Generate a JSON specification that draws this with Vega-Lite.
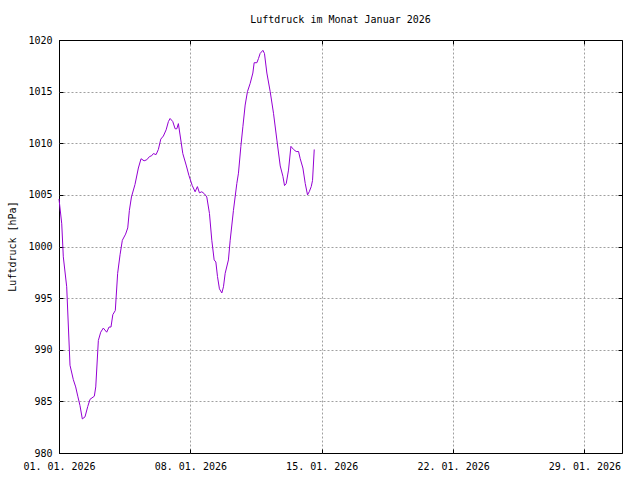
{
  "$schema": "https://vega.github.io/schema/vega-lite/v6.json",
  "width": 563,
  "height": 413,
  "autosize": {"type": "none"},
  "padding": {"left": 59, "top": 40, "right": 18, "bottom": 27},
  "background": "white",
  "title": {
    "text": "Luftdruck im Monat Januar 2026",
    "font": "DejaVu Sans Mono",
    "fontSize": 10,
    "fontWeight": "normal",
    "color": "black",
    "anchor": "middle",
    "offset": 10
  },
  "config": {
    "view": {"stroke": "black", "strokeWidth": 1},
    "axis": {
      "labelFont": "DejaVu Sans Mono",
      "labelFontSize": 10,
      "labelColor": "black",
      "titleFont": "DejaVu Sans Mono",
      "titleFontSize": 10,
      "titleFontWeight": "normal",
      "titleColor": "black",
      "domain": false,
      "gridDash": [2, 2],
      "gridWidth": 1,
      "gridOpacity": 1,
      "ticks": true,
      "tickColor": "black",
      "tickSize": -4,
      "labelOverlap": false,
      "labelFlush": false
    }
  },
  "datasets": {
    "druck": [
      {"t": "2026-01-01T00:00:00Z", "p": 1004.6},
      {"t": "2026-01-01T03:30:00Z", "p": 1002.2},
      {"t": "2026-01-01T05:30:00Z", "p": 999.0},
      {"t": "2026-01-01T09:50:00Z", "p": 996.1},
      {"t": "2026-01-01T14:05:00Z", "p": 988.5},
      {"t": "2026-01-01T18:20:00Z", "p": 987.1},
      {"t": "2026-01-01T21:20:00Z", "p": 986.4},
      {"t": "2026-01-02T00:00:00Z", "p": 985.5},
      {"t": "2026-01-02T02:50:00Z", "p": 984.6},
      {"t": "2026-01-02T05:50:00Z", "p": 983.3},
      {"t": "2026-01-02T09:15:00Z", "p": 983.5},
      {"t": "2026-01-02T12:45:00Z", "p": 984.5},
      {"t": "2026-01-02T15:40:00Z", "p": 985.2},
      {"t": "2026-01-02T21:10:00Z", "p": 985.5},
      {"t": "2026-01-02T23:00:00Z", "p": 986.4},
      {"t": "2026-01-03T02:20:00Z", "p": 990.9},
      {"t": "2026-01-03T05:20:00Z", "p": 991.7},
      {"t": "2026-01-03T08:40:00Z", "p": 992.1},
      {"t": "2026-01-03T13:00:00Z", "p": 991.7},
      {"t": "2026-01-03T16:00:00Z", "p": 992.2},
      {"t": "2026-01-03T18:30:00Z", "p": 992.2},
      {"t": "2026-01-03T20:50:00Z", "p": 993.4},
      {"t": "2026-01-04T00:00:00Z", "p": 993.8},
      {"t": "2026-01-04T03:00:00Z", "p": 997.4},
      {"t": "2026-01-04T06:05:00Z", "p": 999.2},
      {"t": "2026-01-04T09:00:00Z", "p": 1000.6},
      {"t": "2026-01-04T13:10:00Z", "p": 1001.2},
      {"t": "2026-01-04T15:55:00Z", "p": 1001.8},
      {"t": "2026-01-04T18:00:00Z", "p": 1003.5},
      {"t": "2026-01-04T20:40:00Z", "p": 1004.8},
      {"t": "2026-01-05T01:10:00Z", "p": 1006.0},
      {"t": "2026-01-05T05:30:00Z", "p": 1007.6},
      {"t": "2026-01-05T08:55:00Z", "p": 1008.5},
      {"t": "2026-01-05T12:50:00Z", "p": 1008.3},
      {"t": "2026-01-05T16:15:00Z", "p": 1008.4},
      {"t": "2026-01-05T19:35:00Z", "p": 1008.7},
      {"t": "2026-01-05T22:40:00Z", "p": 1008.8},
      {"t": "2026-01-06T00:40:00Z", "p": 1009.0},
      {"t": "2026-01-06T04:10:00Z", "p": 1008.9},
      {"t": "2026-01-06T07:05:00Z", "p": 1009.4},
      {"t": "2026-01-06T10:10:00Z", "p": 1010.4},
      {"t": "2026-01-06T13:30:00Z", "p": 1010.7},
      {"t": "2026-01-06T17:00:00Z", "p": 1011.3},
      {"t": "2026-01-06T19:55:00Z", "p": 1012.1},
      {"t": "2026-01-06T22:05:00Z", "p": 1012.4},
      {"t": "2026-01-07T01:30:00Z", "p": 1012.1},
      {"t": "2026-01-07T04:30:00Z", "p": 1011.4},
      {"t": "2026-01-07T06:40:00Z", "p": 1011.4},
      {"t": "2026-01-07T08:40:00Z", "p": 1011.9},
      {"t": "2026-01-07T10:50:00Z", "p": 1010.8},
      {"t": "2026-01-07T14:20:00Z", "p": 1009.0},
      {"t": "2026-01-07T18:55:00Z", "p": 1007.8},
      {"t": "2026-01-07T22:05:00Z", "p": 1006.9},
      {"t": "2026-01-08T02:25:00Z", "p": 1005.9},
      {"t": "2026-01-08T06:05:00Z", "p": 1005.3},
      {"t": "2026-01-08T09:00:00Z", "p": 1005.8},
      {"t": "2026-01-08T11:35:00Z", "p": 1005.2},
      {"t": "2026-01-08T14:40:00Z", "p": 1005.3},
      {"t": "2026-01-08T18:00:00Z", "p": 1005.1},
      {"t": "2026-01-08T21:00:00Z", "p": 1004.8},
      {"t": "2026-01-09T00:25:00Z", "p": 1003.2},
      {"t": "2026-01-09T03:25:00Z", "p": 1000.6},
      {"t": "2026-01-09T06:25:00Z", "p": 998.7},
      {"t": "2026-01-09T08:35:00Z", "p": 998.5},
      {"t": "2026-01-09T10:40:00Z", "p": 997.1},
      {"t": "2026-01-09T13:10:00Z", "p": 995.9},
      {"t": "2026-01-09T16:15:00Z", "p": 995.5},
      {"t": "2026-01-09T18:20:00Z", "p": 996.1},
      {"t": "2026-01-09T20:30:00Z", "p": 997.4},
      {"t": "2026-01-10T00:40:00Z", "p": 998.7},
      {"t": "2026-01-10T02:55:00Z", "p": 1000.6},
      {"t": "2026-01-10T07:05:00Z", "p": 1003.5},
      {"t": "2026-01-10T11:25:00Z", "p": 1006.1},
      {"t": "2026-01-10T13:30:00Z", "p": 1007.1},
      {"t": "2026-01-10T16:35:00Z", "p": 1009.7},
      {"t": "2026-01-10T19:10:00Z", "p": 1011.6},
      {"t": "2026-01-10T22:05:00Z", "p": 1013.7},
      {"t": "2026-01-11T01:00:00Z", "p": 1015.0},
      {"t": "2026-01-11T04:30:00Z", "p": 1015.8},
      {"t": "2026-01-11T07:55:00Z", "p": 1016.8},
      {"t": "2026-01-11T09:35:00Z", "p": 1017.8},
      {"t": "2026-01-11T13:05:00Z", "p": 1017.8},
      {"t": "2026-01-11T15:05:00Z", "p": 1018.2},
      {"t": "2026-01-11T17:15:00Z", "p": 1018.7},
      {"t": "2026-01-11T20:45:00Z", "p": 1019.0},
      {"t": "2026-01-11T22:45:00Z", "p": 1018.7},
      {"t": "2026-01-12T01:50:00Z", "p": 1016.8},
      {"t": "2026-01-12T06:05:00Z", "p": 1015.0},
      {"t": "2026-01-12T10:20:00Z", "p": 1012.9},
      {"t": "2026-01-12T14:40:00Z", "p": 1010.3},
      {"t": "2026-01-12T18:55:00Z", "p": 1007.8},
      {"t": "2026-01-12T22:20:00Z", "p": 1006.8},
      {"t": "2026-01-13T00:25:00Z", "p": 1005.9},
      {"t": "2026-01-13T02:35:00Z", "p": 1006.1},
      {"t": "2026-01-13T05:30:00Z", "p": 1007.4},
      {"t": "2026-01-13T08:35:00Z", "p": 1009.7},
      {"t": "2026-01-13T11:55:00Z", "p": 1009.4},
      {"t": "2026-01-13T15:20:00Z", "p": 1009.2},
      {"t": "2026-01-13T18:20:00Z", "p": 1009.2},
      {"t": "2026-01-13T20:30:00Z", "p": 1008.5},
      {"t": "2026-01-13T23:55:00Z", "p": 1007.6},
      {"t": "2026-01-14T02:55:00Z", "p": 1006.1},
      {"t": "2026-01-14T05:50:00Z", "p": 1005.0},
      {"t": "2026-01-14T08:00:00Z", "p": 1005.3},
      {"t": "2026-01-14T10:35:00Z", "p": 1005.8},
      {"t": "2026-01-14T12:15:00Z", "p": 1006.4},
      {"t": "2026-01-14T14:25:00Z", "p": 1009.4}
    ]
  },
  "data": {"name": "druck"},
  "resolve": {"axis": {"x": "independent", "y": "independent"}},
  "layer": [
    {
      "mark": {"type": "line", "color": "#9400d3", "strokeWidth": 1, "interpolate": "linear"},
      "encoding": {
        "x": {
          "field": "t",
          "type": "temporal",
          "scale": {
            "type": "utc",
            "domain": [
              {"year": 2026, "month": 1, "date": 1, "utc": true},
              {"year": 2026, "month": 1, "date": 31, "utc": true}
            ],
            "nice": false
          },
          "axis": {
            "title": null,
            "format": "%d. %m. %Y",
            "values": [
              {"year": 2026, "month": 1, "date": 1, "utc": true},
              {"year": 2026, "month": 1, "date": 8, "utc": true},
              {"year": 2026, "month": 1, "date": 15, "utc": true},
              {"year": 2026, "month": 1, "date": 22, "utc": true},
              {"year": 2026, "month": 1, "date": 29, "utc": true}
            ],
            "grid": true,
            "gridColor": {"condition": {"test": "datum.index == 0", "value": "black"}, "value": "#a0a0a0"},
            "labelPadding": 12
          }
        },
        "y": {
          "field": "p",
          "type": "quantitative",
          "scale": {"domain": [980, 1020], "nice": false, "zero": false},
          "axis": {
            "title": "Luftdruck [hPa]",
            "format": "d",
            "values": [980, 985, 990, 995, 1000, 1005, 1010, 1015, 1020],
            "grid": true,
            "gridColor": {"condition": {"test": "datum.value == 980 || datum.value == 1020", "value": "black"}, "value": "#a0a0a0"},
            "labelPadding": 11,
            "titleX": -47,
            "titleY": 206,
            "titleAngle": -90,
            "titleBaseline": "middle",
            "titleAlign": "center"
          }
        }
      }
    },
    {
      "mark": {"type": "line", "opacity": 0, "strokeWidth": 1},
      "encoding": {
        "x": {
          "field": "t",
          "type": "temporal",
          "axis": {
            "orient": "top",
            "title": null,
            "labels": false,
            "grid": false,
            "values": [
              {"year": 2026, "month": 1, "date": 1, "utc": true},
              {"year": 2026, "month": 1, "date": 8, "utc": true},
              {"year": 2026, "month": 1, "date": 15, "utc": true},
              {"year": 2026, "month": 1, "date": 22, "utc": true},
              {"year": 2026, "month": 1, "date": 29, "utc": true}
            ]
          }
        },
        "y": {
          "field": "p",
          "type": "quantitative",
          "axis": {
            "orient": "right",
            "title": null,
            "labels": false,
            "grid": false,
            "values": [980, 985, 990, 995, 1000, 1005, 1010, 1015, 1020]
          }
        }
      }
    }
  ]
}
